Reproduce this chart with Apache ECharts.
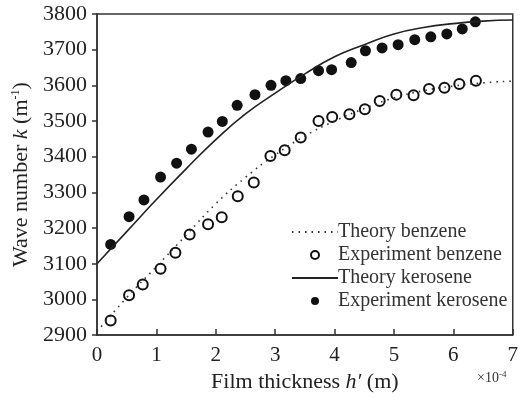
<!DOCTYPE html>
<html>
<head>
<meta charset="utf-8">
<script src="https://cdn.jsdelivr.net/npm/echarts@6/dist/echarts.min.js"></script>
<style>
  html, body { margin: 0; padding: 0; background: #fff; }
  #chart { width: 521px; height: 398px; }
</style>
</head>
<body>
<div id="chart"></div>
<script>
// film thickness (x 10^-4 m) for the theory curves
const theoryX = [0, 0.5, 1, 1.5, 2, 2.5, 3, 3.5, 4, 4.5, 5, 5.5, 6, 6.5, 7];
const theoryBenzene = [2910, 3005, 3092, 3180, 3268, 3342, 3405, 3458, 3500, 3535, 3565, 3585, 3598, 3607, 3612];
const theoryKerosene = [3100, 3190, 3280, 3366, 3448, 3520, 3578, 3632, 3680, 3714, 3744, 3762, 3773, 3780, 3783];

// measured points
const benzeneX = [0.23, 0.54, 0.77, 1.07, 1.32, 1.56, 1.87, 2.10, 2.37, 2.64, 2.92, 3.16, 3.43, 3.73, 3.96, 4.25, 4.51, 4.76, 5.04, 5.33, 5.59, 5.85, 6.10, 6.38];
const benzeneK = [2941, 3012, 3042, 3086, 3131, 3182, 3211, 3230, 3289, 3328, 3402, 3418, 3454, 3500, 3511, 3519, 3533, 3556, 3574, 3572, 3590, 3593, 3604, 3613];
const keroseneX = [0.23, 0.54, 0.79, 1.07, 1.34, 1.59, 1.87, 2.11, 2.36, 2.66, 2.93, 3.18, 3.43, 3.73, 3.95, 4.28, 4.52, 4.80, 5.07, 5.35, 5.62, 5.89, 6.15, 6.37];
const keroseneK = [3154, 3232, 3279, 3343, 3382, 3421, 3469, 3499, 3544, 3574, 3600, 3613, 3619, 3641, 3644, 3664, 3697, 3705, 3714, 3728, 3736, 3744, 3758, 3778];

const xTicks = ['0', '1', '2', '3', '4', '5', '6', '7'];

function pairs(xs, ys) {
  return xs.map((x, i) => [x, ys[i]]);
}

const chart = echarts.init(document.getElementById('chart'));
const serif = 'Liberation Serif';
const ink = '#222';

const option = {
  animation: false,
  textStyle: { fontFamily: serif, color: ink },
  grid: {
    left: 97, top: 14, right: 7, bottom: 61,
    show: true, borderColor: '#333', borderWidth: 1.5
  },
  legend: {
    orient: 'vertical',
    left: 286, top: 217,
    itemWidth: 46, itemHeight: 8, itemGap: 3,
    textStyle: { fontFamily: serif, fontSize: 20, color: '#333', padding: [0, 0, 0, -5] },
    data: [
      { name: 'Theory benzene', itemStyle: { opacity: 0 } },
      { name: 'Experiment benzene' },
      { name: 'Theory kerosene', itemStyle: { opacity: 0 } },
      { name: 'Experiment kerosene' }
    ]
  },
  xAxis: {
    type: 'value', min: 0, max: 7, interval: 1,
    name: '{t|Film thickness }{i|h′}{t| (m)}',
    nameLocation: 'middle', nameGap: 32,
    nameTextStyle: {
      rich: {
        t: { fontFamily: serif, fontSize: 22, color: ink },
        i: { fontFamily: serif, fontSize: 22, fontStyle: 'italic', color: ink }
      }
    },
    axisLine: { lineStyle: { color: '#333', width: 1.5 } },
    axisTick: { inside: true, length: 6, lineStyle: { color: '#333', width: 1.5 } },
    axisLabel: { fontFamily: serif, fontSize: 21, color: ink, margin: 10,
      formatter: v => xTicks[Math.round(v)] },
    splitLine: { show: false }
  },
  yAxis: {
    type: 'value', min: 2900, max: 3800, interval: 100,
    name: '{t|Wave number }{i|k}{t| (m}{s|-1}{t|)}',
    nameLocation: 'middle', nameGap: 54,
    nameTextStyle: {
      rich: {
        t: { fontFamily: serif, fontSize: 22, color: ink },
        i: { fontFamily: serif, fontSize: 22, fontStyle: 'italic', color: ink },
        s: { fontFamily: serif, fontSize: 12, color: ink, padding: [0, 0, 11, 0] }
      }
    },
    axisLine: { lineStyle: { color: '#333', width: 1.5 } },
    axisTick: { length: 5, lineStyle: { color: '#333', width: 1.5 } },
    axisLabel: { fontFamily: serif, fontSize: 22, color: ink, margin: 10,
      formatter: v => String(v) },
    splitLine: { show: false }
  },
  graphic: [{
    type: 'text', left: 477, top: 370,
    style: { text: '×10{s|-4}', fontFamily: serif, fontSize: 14, fill: '#333',
      rich: { s: { fontFamily: serif, fontSize: 9, fill: '#333', padding: [0, 0, 7, 0] } } }
  }],
  series: [
    {
      name: 'Theory benzene', type: 'line', smooth: true, symbol: 'none',
      data: pairs(theoryX, theoryBenzene),
      lineStyle: { color: '#333', width: 1.6, type: [1.5, 5] },
      itemStyle: { color: '#333' }
    },
    {
      name: 'Experiment benzene', type: 'scatter', symbol: 'circle', symbolSize: 10,
      data: pairs(benzeneX, benzeneK),
      itemStyle: { color: '#fff', borderColor: '#111', borderWidth: 2, opacity: 1 }
    },
    {
      name: 'Theory kerosene', type: 'line', smooth: true, symbol: 'none',
      data: pairs(theoryX, theoryKerosene),
      lineStyle: { color: '#222', width: 1.6 },
      itemStyle: { color: '#222' }
    },
    {
      name: 'Experiment kerosene', type: 'scatter', symbol: 'circle', symbolSize: 11,
      data: pairs(keroseneX, keroseneK),
      itemStyle: { color: '#111', opacity: 1 }
    }
  ]
};

chart.setOption(option);
</script>
</body>
</html>
